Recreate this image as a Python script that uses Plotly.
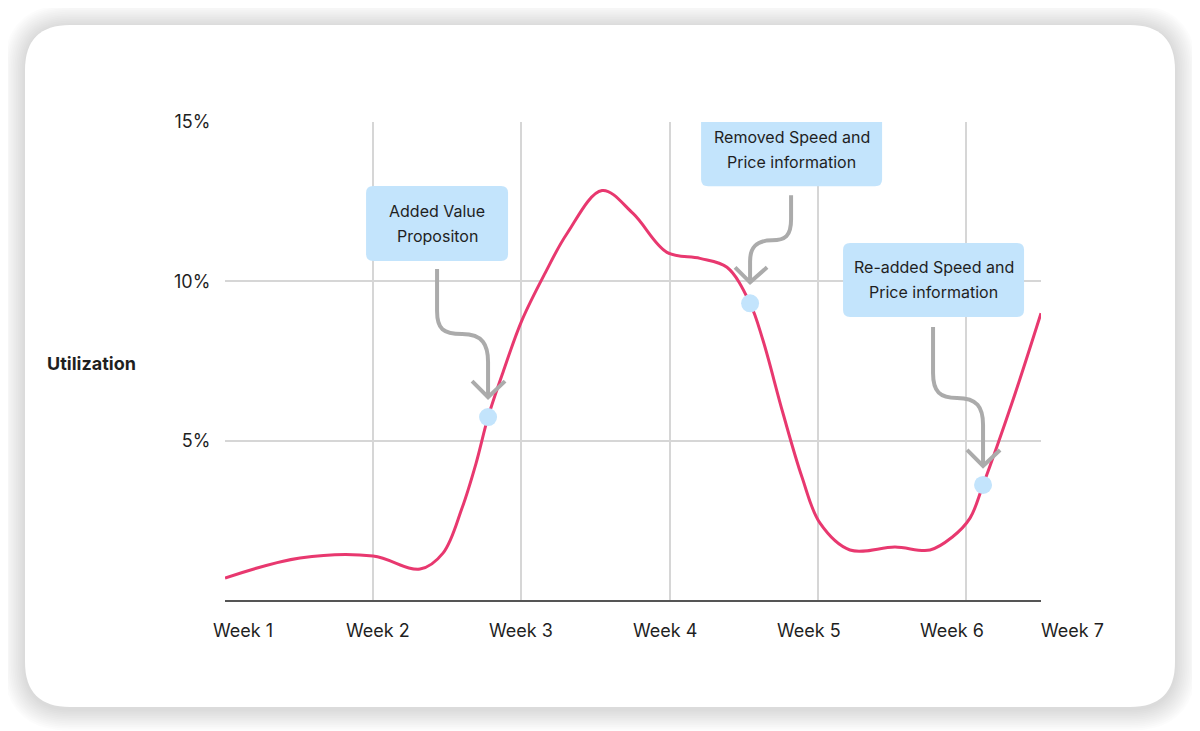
import plotly.graph_objects as go

# ── datos ─────────────────────────────────────────────────────────────
week_pos = [0.0, 0.506, 0.999, 1.316, 1.471, 1.599, 1.694, 1.775, 1.876, 2.004,
            2.159, 2.308, 2.544, 2.753, 2.982, 3.205, 3.387, 3.543, 3.630, 3.765,
            3.893, 4.015, 4.217, 4.521, 4.757, 4.906, 5.027, 5.115, 5.310, 5.506]
utilization = [0.69, 1.32, 1.38, 0.97, 1.47, 2.88, 4.29, 5.74, 7.15, 8.78,
               10.25, 11.50, 12.85, 12.13, 10.91, 10.72, 10.44, 9.31, 8.15, 5.86,
               3.86, 2.41, 1.57, 1.66, 1.57, 1.97, 2.57, 3.61, 6.18, 9.00]

event_pos = [1.775, 3.543, 5.115]
event_util = [5.74, 9.31, 3.61]
event_text = [
    ["Added Value", "Propositon"],
    ["Removed Speed and", "Price information"],
    ["Re-added Speed and", "Price information"],
]

week_labels = ["Week 1", "Week 2", "Week 3", "Week 4", "Week 5", "Week 6", "Week 7"]
week_label_pos = [0.121, 1.032, 1.997, 2.969, 3.94, 4.905, 5.72]

y_ticks = [5, 10, 15]
y_tick_text = ["5%", "10%", "15%"]

X_MAX = 5.506

# ── estilos ───────────────────────────────────────────────────────────
FONT = "Inter, Roboto, sans-serif"
LINE_COLOR = "#e8386f"
BOX_COLOR = "#c3e4fc"
ARROW_COLOR = "#ababab"
TEXT_COLOR = "#1f1f1f"

# cajas y flechas en píxeles, relativas al punto marcado (y hacia arriba)
box_px = [(-122, 20, 156, 231), (-49, 132, 117, 191), (-140, 41, 168, 242)]
arrow_px = [
    "M -51 148 L -51 106 C -51 88 -45 83 -26 83 C -5 83 0 72 0 55 L 0 22",
    "M 41 108 L 41 84 C 41 67 35 63 22 63 C 6 63 0 56 0 42 L 0 22",
    "M -50 158 L -50 112 C -50 93 -43 87 -26 87 C -6 87 0 78 0 60 L 0 20",
]
head_px = [
    "M -16 36 L 0 20 L 17 36",
    "M -15 36 L 0 21 L 17 36",
    "M -16 35 L 0 19 L 17 35",
]


def rounded_rect(x0, x1, y0, y1, r):
    return (f"M {x0 + r} {y0} L {x1 - r} {y0} Q {x1} {y0} {x1} {y0 + r} "
            f"L {x1} {y1 - r} Q {x1} {y1} {x1 - r} {y1} L {x0 + r} {y1} "
            f"Q {x0} {y1} {x0} {y1 - r} L {x0} {y0 + r} Q {x0} {y0} {x0 + r} {y0} Z")


fig = go.Figure()

fig.add_trace(go.Scatter(
    x=week_pos, y=utilization,
    mode="lines",
    line=dict(color=LINE_COLOR, width=3, shape="spline", smoothing=1.0),
    hoverinfo="skip",
    showlegend=False,
))

fig.add_trace(go.Scatter(
    x=event_pos, y=event_util,
    mode="markers",
    marker=dict(size=18, color=BOX_COLOR),
    hoverinfo="skip",
    showlegend=False,
))

shapes = []

# tarjeta con sombra (anclada al origen del área de trazado, en píxeles)
card = (-200, 950, -107, 575)
for i in range(12, 0, -1):
    s = i * 1.8
    shapes.append(dict(
        type="path", xref="paper", yref="paper",
        xsizemode="pixel", ysizemode="pixel", xanchor=0, yanchor=0,
        path=rounded_rect(card[0] - s, card[1] + s, card[2] - s - 2, card[3] + s - 1, 45 + s),
        fillcolor="rgba(0,0,0,0.013)", line=dict(width=0), layer="below",
    ))
shapes.append(dict(
    type="path", xref="paper", yref="paper",
    xsizemode="pixel", ysizemode="pixel", xanchor=0, yanchor=0,
    path=rounded_rect(*card, 45),
    fillcolor="white", line=dict(width=0), layer="below",
))

annotations = []
for i, (ex, ey) in enumerate(zip(event_pos, event_util)):
    bx0, bx1, by0, by1 = box_px[i]
    shapes.append(dict(
        type="path", xref="x", yref="y",
        xsizemode="pixel", ysizemode="pixel", xanchor=ex, yanchor=ey,
        path=rounded_rect(bx0, bx1, by0, by1, 7),
        fillcolor=BOX_COLOR, line=dict(width=0), layer="above",
    ))
    for p in (arrow_px[i], head_px[i]):
        shapes.append(dict(
            type="path", xref="x", yref="y",
            xsizemode="pixel", ysizemode="pixel", xanchor=ex, yanchor=ey,
            path=p, line=dict(color=ARROW_COLOR, width=4), layer="above",
        ))
    cx = (bx0 + bx1) / 2
    cy = (by0 + by1) / 2
    for j, line_txt in enumerate(event_text[i]):
        annotations.append(dict(
            x=ex, y=ey, xref="x", yref="y", text=line_txt, showarrow=False,
            xshift=cx, yshift=cy + (12.5 if j == 0 else -12.5),
            xanchor="center", yanchor="middle",
            font=dict(family=FONT, size=16, color=TEXT_COLOR),
        ))

# etiquetas de semana (Week 7 cae fuera del rango, por eso en coordenadas paper)
for lbl, pos in zip(week_labels, week_label_pos):
    annotations.append(dict(
        x=pos / X_MAX, y=0, xref="paper", yref="paper", text=lbl, showarrow=False,
        yshift=-30, xanchor="center", yanchor="middle",
        font=dict(family=FONT, size=18, color=TEXT_COLOR),
    ))

annotations.append(dict(
    x=-0.163, y=0.494, xref="paper", yref="paper", text="<b>Utilization</b>",
    showarrow=False, xanchor="center", yanchor="middle",
    font=dict(family=FONT, size=18, color=TEXT_COLOR),
))

fig.update_layout(
    width=1200, height=731,
    margin=dict(l=217, r=167, t=114, b=139),
    paper_bgcolor="white",
    plot_bgcolor="rgba(0,0,0,0)",
    font=dict(family=FONT, size=18, color=TEXT_COLOR),
    xaxis=dict(
        range=[0, X_MAX],
        tickvals=[0, 1, 2, 3, 4, 5],
        showticklabels=False,
        showgrid=True, gridcolor="#d6d6d6", gridwidth=2,
        zeroline=False,
        showline=True, linecolor="#555555", linewidth=2,
        fixedrange=True,
    ),
    yaxis=dict(
        range=[0, 15],
        tickvals=y_ticks, ticktext=y_tick_text,
        ticks="outside", ticklen=10, tickcolor="rgba(0,0,0,0)",
        showgrid=True, gridcolor="#d6d6d6", gridwidth=2,
        zeroline=False, showline=False,
        tickfont=dict(family=FONT, size=18, color=TEXT_COLOR),
        fixedrange=True,
    ),
    shapes=shapes,
    annotations=annotations,
    showlegend=False,
)

fig.write_html("out.html", config=dict(displayModeBar=False))
